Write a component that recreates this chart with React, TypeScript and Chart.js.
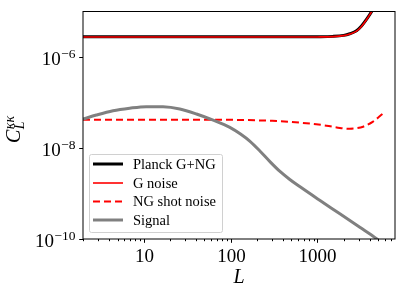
import { useEffect, useRef } from 'react';
import { Chart, registerables } from 'chart.js';

Chart.register(...registerables);

// ---- data ----
const L_NOISE = [2, 10, 100, 500, 1000, 1500, 2000, 2355, 2810, 3210, 3665, 4190, 4500];
const PLANCK_TOTAL = [2.79e-6, 2.79e-6, 2.79e-6, 2.79e-6, 2.8e-6, 2.84e-6, 2.99e-6, 3.25e-6, 3.76e-6, 4.78e-6, 6.7e-6, 9.9e-6, 1.27e-5];
const G_NOISE = [2.75e-6, 2.75e-6, 2.75e-6, 2.75e-6, 2.76e-6, 2.8e-6, 2.95e-6, 3.2e-6, 3.7e-6, 4.7e-6, 6.6e-6, 9.8e-6, 1.25e-5];

const L_NG = [2, 45, 300, 630, 1270, 1810, 2350, 2810, 3350, 4360, 5600];
const NG_SHOT = [4.2e-8, 4.2e-8, 3.95e-8, 3.6e-8, 3.1e-8, 2.75e-8, 2.65e-8, 2.72e-8, 2.94e-8, 3.8e-8, 5.6e-8];

const L_SIG = [2, 2.85, 4.43, 6.9, 10.7, 16.7, 26, 40.5, 63, 98, 130, 166, 220, 287, 370, 480, 630, 1060, 1810, 3070, 4600, 6000];
const SIGNAL = [4.3e-8, 5.3e-8, 6.6e-8, 7.5e-8, 8.1e-8, 8.05e-8, 7.2e-8, 5.6e-8, 4.1e-8, 2.85e-8, 2.03e-8, 1.42e-8, 8.4e-9, 4.9e-9, 3.05e-9, 2.03e-9, 1.4e-9, 7.1e-10, 3.58e-10, 1.81e-10, 1.07e-10, 7.2e-11];

const SERIES_NAMES = ['Planck G+NG', 'G noise', 'NG shot noise', 'Signal'];

const X_MIN = 2;
const X_MAX = 7800;
const Y_MIN = 1e-10;
const Y_MAX = 1e-5;
const X_MAJOR_TICKS = [10, 100, 1000];
const X_TICK_LABELS = ['10', '100', '1000'];
const Y_TICK_EXPONENTS = [-6, -8, -10];

const SERIF = '"Liberation Serif", "DejaVu Serif", serif';

const pts = (xs: number[], ys: number[]) => xs.map((x, i) => ({ x, y: ys[i] }));

const axesPlugin = {
  id: 'mplAxes',
  afterDraw(chart: any) {
    const { ctx, chartArea } = chart;
    const { left, right, top, bottom } = chartArea;
    const xs = chart.scales.x;
    const ys = chart.scales.y;
    ctx.save();

    // frame
    ctx.strokeStyle = '#000';
    ctx.lineWidth = 1;
    ctx.strokeRect(left, top, right - left, bottom - top);

    // x ticks
    ctx.lineWidth = 1;
    for (let d = 1; d <= 1000; d *= 10) {
      for (let m = 2; m <= 9; m++) {
        const v = d * m;
        if (v < X_MIN || v > X_MAX) continue;
        const px = Math.round(xs.getPixelForValue(v)) + 0.5;
        ctx.beginPath();
        ctx.moveTo(px, bottom);
        ctx.lineTo(px, bottom + 2.2);
        ctx.stroke();
      }
    }
    ctx.font = `19px ${SERIF}`;
    ctx.fillStyle = '#000';
    ctx.textAlign = 'center';
    ctx.textBaseline = 'alphabetic';
    X_MAJOR_TICKS.forEach((v, i) => {
      const px = Math.round(xs.getPixelForValue(v)) + 0.5;
      ctx.beginPath();
      ctx.moveTo(px, bottom);
      ctx.lineTo(px, bottom + 3.8);
      ctx.stroke();
      ctx.fillText(X_TICK_LABELS[i], px, bottom + 22.5);
    });

    // y ticks
    Y_TICK_EXPONENTS.forEach((e) => {
      const py = Math.round(ys.getPixelForValue(Math.pow(10, e))) + 0.5;
      ctx.beginPath();
      ctx.moveTo(left, py);
      ctx.lineTo(left - 3.8, py);
      ctx.stroke();
      const expText = '\u2212' + String(-e);
      ctx.textAlign = 'right';
      ctx.font = `13.5px ${SERIF}`;
      const ew = ctx.measureText(expText).width;
      const xr = 75.5;
      ctx.fillText(expText, xr, py + 0.5);
      ctx.font = `19px ${SERIF}`;
      ctx.fillText('10', xr - ew - 0.5, py + 7);
    });

    // x axis title
    ctx.textAlign = 'center';
    ctx.font = `italic 20px ${SERIF}`;
    ctx.fillText('L', (left + right) / 2, bottom + 44);

    // y axis title C_L^{kk}
    ctx.save();
    ctx.translate(20, 143);
    ctx.rotate(-Math.PI / 2);
    ctx.textAlign = 'left';
    ctx.font = `italic 20px ${SERIF}`;
    ctx.fillText('C', 0, 0);
    const cw = ctx.measureText('C').width;
    ctx.font = `italic 14px ${SERIF}`;
    ctx.fillText('\u03ba\u03ba', cw + 0.5, -6.5);
    ctx.fillText('L', cw + 0.5, 3.5);
    ctx.restore();

    // legend
    const bx = 89.5, by = 154.5, bw = 133, bh = 78;
    ctx.beginPath();
    if (ctx.roundRect) ctx.roundRect(bx, by, bw, bh, 2);
    else ctx.rect(bx, by, bw, bh);
    ctx.fillStyle = 'rgba(255,255,255,0.85)';
    ctx.fill();
    ctx.strokeStyle = '#d0d0d0';
    ctx.lineWidth = 1;
    ctx.stroke();
    const rows = [164, 183, 201.5, 220];
    chart.data.datasets.forEach((ds: any, i: number) => {
      const ry = rows[i];
      ctx.beginPath();
      ctx.strokeStyle = ds.borderColor;
      ctx.lineWidth = ds.borderWidth;
      ctx.setLineDash(ds.borderDash || []);
      ctx.moveTo(93, ry);
      ctx.lineTo(123, ry);
      ctx.stroke();
      ctx.setLineDash([]);
      ctx.fillStyle = '#000';
      ctx.textAlign = 'left';
      ctx.textBaseline = 'middle';
      ctx.font = `14.5px ${SERIF}`;
      ctx.fillText(ds.label, 133, ry + 1);
    });

    ctx.restore();
  },
};

export default function App() {
  const ref = useRef<HTMLCanvasElement>(null);
  useEffect(() => {
    document.body.style.margin = '0';
    const common = {
      pointRadius: 0,
      fill: false,
      cubicInterpolationMode: 'monotone' as const,
      clip: { left: 0, top: 0, right: 0, bottom: 0 },
    };
    const chart = new Chart(ref.current as HTMLCanvasElement, {
      type: 'line',
      data: {
        datasets: [
          { ...common, label: SERIES_NAMES[0], data: pts(L_NOISE, PLANCK_TOTAL), borderColor: '#000000', borderWidth: 3, order: 4 },
          { ...common, label: SERIES_NAMES[1], data: pts(L_NOISE, G_NOISE), borderColor: '#ff0000', borderWidth: 1.6, order: 3 },
          { ...common, label: SERIES_NAMES[2], data: pts(L_NG, NG_SHOT), borderColor: '#ff0000', borderWidth: 2, borderDash: [7, 4], order: 2 },
          { ...common, label: SERIES_NAMES[3], data: pts(L_SIG, SIGNAL), borderColor: '#808080', borderWidth: 3, order: 1 },
        ],
      } as any,
      options: {
        responsive: false,
        animation: false,
        devicePixelRatio: 1,
        layout: { padding: { left: 83, right: 12, top: 11.5, bottom: 56 } },
        plugins: { legend: { display: false }, tooltip: { enabled: false } },
        scales: {
          x: { type: 'logarithmic', min: X_MIN, max: X_MAX, display: false },
          y: { type: 'logarithmic', min: Y_MIN, max: Y_MAX, display: false },
        },
      } as any,
      plugins: [axesPlugin],
    });
    return () => chart.destroy();
  }, []);
  return (
    <div style={{ width: 407, height: 295 }}>
      <canvas ref={ref} width={407} height={295} style={{ display: 'block' }} />
    </div>
  );
}
